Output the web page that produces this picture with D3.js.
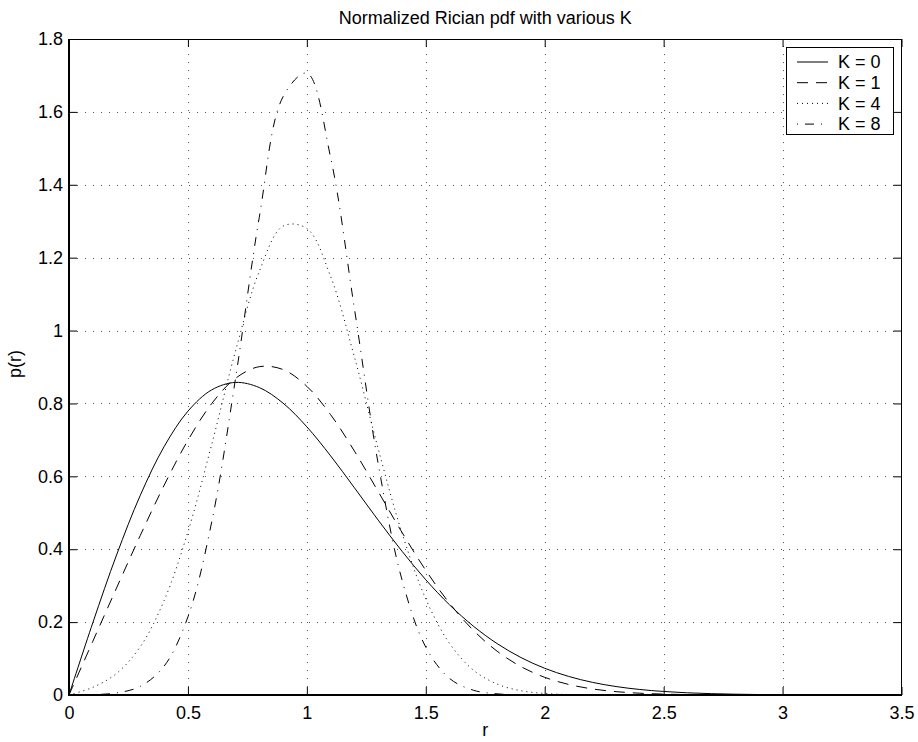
<!DOCTYPE html>
<html>
<head>
<meta charset="utf-8">
<script src="https://cdn.jsdelivr.net/npm/d3@7"></script>
<style>
  html, body { margin: 0; padding: 0; background: #fff; }
  svg { display: block; }
  text { font-family: "Liberation Sans", Arial, Helvetica, sans-serif; fill: #000; }
</style>
</head>
<body>
<svg id="chart" width="918" height="742"></svg>
<script>
// ---- data ----
const rValues = [0.0,0.1,0.2,0.3,0.4,0.5,0.6,0.7,0.8,0.9,1.0,1.1,1.2,1.3,1.4,1.5,1.6,1.7,1.8,1.9,
                 2.0,2.1,2.2,2.3,2.4,2.5,2.6,2.7,2.8,2.9,3.0,3.1,3.2,3.3,3.4,3.5];
const pK0 = [0,0.198,0.3843,0.5483,0.6817,0.7788,0.8372,0.8577,0.8436,0.8008,0.7358,0.6561,0.5686,0.4798,
             0.3945,0.3162,0.2473,0.1889,0.1410,0.1028,0.0733,0.0511,0.0348,0.0232,0.0151,0.0097,0.0060,
             0.0037,0.0022,0.0013,0.0007,0.0004,0.0002,0.0001,0.0001,0.0000];
const pK1 = [0,0.1471,0.2938,0.4382,0.5755,0.6989,0.7996,0.8690,0.9009,0.8930,0.8469,0.7691,0.6692,0.5581,
             0.4462,0.3421,0.2515,0.1774,0.1201,0.0779,0.0485,0.0291,0.0167,0.0092,0.0049,0.0025,0.0012,
             0.0006,0.0002,0.0001,0,0,0,0,0,0];
const pK4 = [0,0.0211,0.0592,0.1328,0.2593,0.4476,0.6876,0.9438,1.1623,1.2866,1.2800,1.1481,0.9273,0.6755,
             0.4443,0.2636,0.1414,0.0684,0.0299,0.0118,0.0042,0.0014,0.0004,0.0001,0,0,0,
             0,0,0,0,0,0,0,0,0];
const pK8 = [0,0.0010,0.0057,0.0238,0.0793,0.2143,0.4748,0.8678,1.3108,1.6417,1.7062,1.4744,1.0598,0.6342,
             0.3161,0.1313,0.0454,0.0131,0.0032,0.0006,0.0001,0,0,0,0,0,0,
             0,0,0,0,0,0,0,0,0];
const seriesNames = ["K = 0","K = 1","K = 4","K = 8"];
const xTicks = [0,0.5,1,1.5,2,2.5,3,3.5];
const xTickLabels = ["0","0.5","1","1.5","2","2.5","3","3.5"];
const yTicks = [0,0.2,0.4,0.6,0.8,1.0,1.2,1.4,1.6,1.8];
const yTickLabels = ["0","0.2","0.4","0.6","0.8","1","1.2","1.4","1.6","1.8"];
const titleText = "Normalized Rician pdf with various K";
const xLabel = "r";
const yLabel = "p(r)";

// ---- styles ----
const dashes = [null, "11,8", "1,4", "1,7,9,7"];
const allSeries = [pK0, pK1, pK4, pK8];

const L = 69, R = 901.5, T = 39, B = 695;
const svg = d3.select("#chart");
const x = d3.scaleLinear().domain([0, 3.5]).range([L, R]);
const y = d3.scaleLinear().domain([0, 1.8]).range([B, T]);

// grid
const grid = svg.append("g").attr("stroke", "#555").attr("stroke-width", 1)
  .attr("stroke-dasharray", "1,7").attr("fill", "none");
xTicks.slice(1, -1).forEach(t => {
  grid.append("line").attr("x1", Math.round(x(t)) + 0.5).attr("x2", Math.round(x(t)) + 0.5)
    .attr("y1", B).attr("y2", T);
});
yTicks.slice(1, -1).forEach(t => {
  grid.append("line").attr("y1", Math.round(y(t)) + 0.5).attr("y2", Math.round(y(t)) + 0.5)
    .attr("x1", L).attr("x2", R);
});

// axes
const fs = 18;
const xAxis = d3.axisBottom(x).tickValues(xTicks).tickSizeInner(-8).tickSizeOuter(0)
  .tickPadding(11).tickFormat((d, i) => xTickLabels[i]);
const yAxis = d3.axisLeft(y).tickValues(yTicks).tickSizeInner(-8).tickSizeOuter(0)
  .tickPadding(6).tickFormat((d, i) => yTickLabels[i]);
const gx = svg.append("g").attr("transform", `translate(0,${B})`).call(xAxis);
const gy = svg.append("g").attr("transform", `translate(${L},0)`).call(yAxis);
const gxt = svg.append("g").attr("transform", `translate(0,${T})`)
  .call(d3.axisTop(x).tickValues(xTicks).tickSizeInner(-8).tickSizeOuter(0).tickFormat(""));
const gyr = svg.append("g").attr("transform", `translate(${R},0)`)
  .call(d3.axisRight(y).tickValues(yTicks).tickSizeInner(-8).tickSizeOuter(0).tickFormat(""));
[gx, gy, gxt, gyr].forEach(g => {
  g.select(".domain").remove();
  g.selectAll(".tick line").attr("stroke", "#000").attr("stroke-width", 1);
  g.selectAll("text").attr("font-size", fs).attr("fill", "#000")
    .style("font-family", '"Liberation Sans", Arial, sans-serif');
});

// box
svg.append("rect").attr("x", L).attr("y", T + 0.5).attr("width", R - L).attr("height", B - T)
  .attr("fill", "none").attr("stroke", "#000").attr("stroke-width", 1);
svg.append("line").attr("x1", L).attr("x2", L).attr("y1", T).attr("y2", B + 1)
  .attr("stroke", "#000").attr("stroke-width", 2);
svg.append("line").attr("x1", L - 1).attr("x2", R + 0.5).attr("y1", B).attr("y2", B)
  .attr("stroke", "#000").attr("stroke-width", 2);

// curves
const line = d3.line().x((d, i) => x(rValues[i])).y(d => y(d)).curve(d3.curveCatmullRom.alpha(0.5));
const clip = svg.append("clipPath").attr("id", "clip").append("rect")
  .attr("x", L).attr("y", T).attr("width", R - L).attr("height", B - T);
allSeries.forEach((s, i) => {
  svg.append("path").datum(s).attr("d", line).attr("fill", "none")
    .attr("stroke", "#000").attr("stroke-width", 1)
    .attr("stroke-dasharray", dashes[i]).attr("clip-path", "url(#clip)");
});

// title & labels
svg.append("text").attr("x", (L + R) / 2).attr("y", 24).attr("text-anchor", "middle")
  .attr("font-size", fs).text(titleText);
svg.append("text").attr("x", (L + R) / 2).attr("y", 736).attr("text-anchor", "middle")
  .attr("font-size", fs).text(xLabel);
svg.append("text").attr("transform", `translate(21,364) rotate(-90)`).attr("text-anchor", "middle")
  .attr("font-size", fs).text(yLabel);

// legend
const lg = svg.append("g");
lg.append("rect").attr("x", 786.5).attr("y", 47.5).attr("width", 107).attr("height", 87)
  .attr("fill", "#fff").attr("stroke", "#000").attr("stroke-width", 1);
seriesNames.forEach((name, i) => {
  const cy = 62 + i * 20.7;
  lg.append("line").attr("x1", 797).attr("x2", 828).attr("y1", cy).attr("y2", cy)
    .attr("stroke", "#000").attr("stroke-width", 1).attr("stroke-dasharray", dashes[i]);
  lg.append("text").attr("x", 838).attr("y", cy).attr("dy", "0.35em")
    .attr("font-size", fs).text(name);
});
</script>
</body>
</html>
